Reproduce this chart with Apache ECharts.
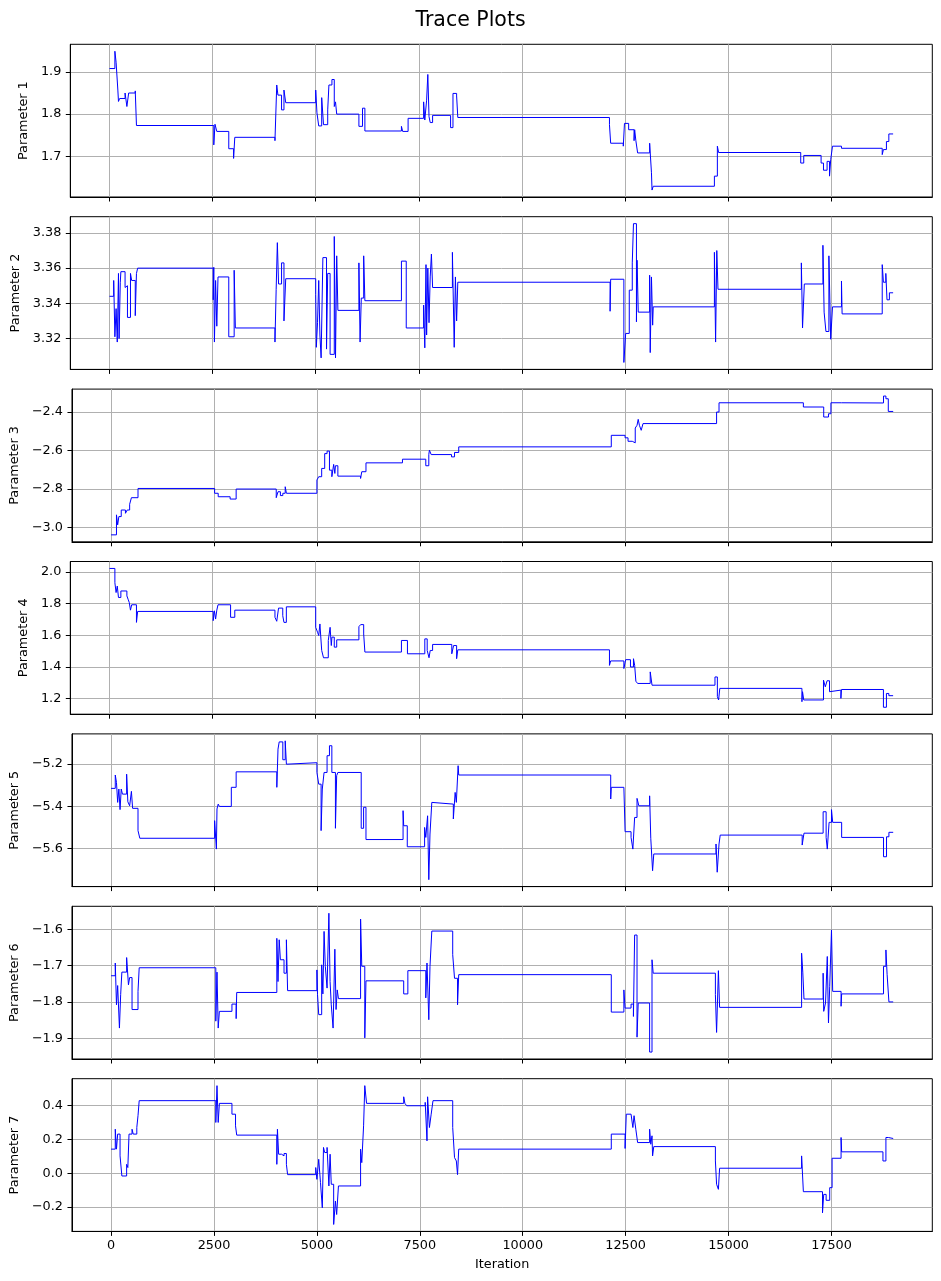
<!DOCTYPE html>
<html>
<head>
<meta charset="utf-8">
<script src="https://cdn.jsdelivr.net/npm/echarts@6.0.0/dist/echarts.min.js"></script>
</head>
<body style="margin:0; background:#fff;">
<div id="main" style="width:941px;height:1281px;"></div>
<script>
// ---- data ----
var chartTitle = 'Trace Plots';
var xName = 'Iteration';
var paramNames = ['Parameter 1', 'Parameter 2', 'Parameter 3', 'Parameter 4', 'Parameter 5', 'Parameter 6', 'Parameter 7'];
var xTickLabels = ['0', '2500', '5000', '7500', '10000', '12500', '15000', '17500'];
var yTickLabels = [
    ['1.7', '1.8', '1.9'],
    ['3.32', '3.34', '3.36', '3.38'],
    ['\u22123.0', '\u22122.8', '\u22122.6', '\u22122.4'],
    ['1.2', '1.4', '1.6', '1.8', '2.0'],
    ['\u22125.6', '\u22125.4', '\u22125.2'],
    ['\u22121.9', '\u22121.8', '\u22121.7', '\u22121.6'],
    ['\u22120.2', '0.0', '0.2', '0.4']
];

// [iteration, value] at each change of the chain
var p1 = [[0,1.908],[131,1.949],[160,1.923],[203,1.857],[218,1.830],[247,1.837],[378,1.850],[422,1.818],[465,1.850],[625,1.855],[654,1.773],[2529,1.727],[2558,1.776],[2602,1.759],[2892,1.718],[3009,1.695],[3038,1.745],[4012,1.737],[4055,1.869],[4084,1.845],[4172,1.810],[4230,1.857],[4273,1.827],[5000,1.857],[5030,1.803],[5073,1.772],[5145,1.839],[5189,1.775],[5291,1.810],[5320,1.869],[5393,1.882],[5450,1.818],[5480,1.829],[5509,1.800],[6047,1.771],[6134,1.814],[6192,1.760],[7078,1.771],[7108,1.759],[7240,1.790],[7616,1.829],[7645,1.786],[7689,1.833],[7718,1.894],[7747,1.794],[7776,1.780],[7834,1.797],[8270,1.768],[8328,1.849],[8416,1.843],[8445,1.792],[12122,1.775],[12151,1.731],[12457,1.724],[12486,1.778],[12587,1.763],[12718,1.737],[12733,1.763],[12762,1.737],[12805,1.708],[13096,1.731],[13140,1.661],[13154,1.620],[13183,1.629],[14666,1.653],[14738,1.724],[14768,1.709],[16759,1.684],[16832,1.702],[17253,1.684],[17311,1.667],[17398,1.688],[17457,1.653],[17486,1.692],[17529,1.724],[17747,1.719],[18735,1.704],[18764,1.716],[18837,1.735],[18895,1.753],[18999,1.753]];
var p2 = [[0,3.344],[102,3.353],[131,3.321],[160,3.337],[189,3.318],[218,3.357],[233,3.320],[262,3.352],[276,3.358],[378,3.349],[407,3.350],[436,3.332],[509,3.357],[538,3.353],[625,3.333],[654,3.357],[683,3.360],[2515,3.342],[2529,3.3605],[2544,3.318],[2573,3.353],[2602,3.327],[2631,3.355],[2892,3.321],[3023,3.3588],[3052,3.326],[4012,3.318],[4041,3.348],[4070,3.3745],[4099,3.351],[4172,3.363],[4230,3.330],[4273,3.354],[5000,3.345],[5015,3.315],[5044,3.329],[5073,3.353],[5102,3.322],[5131,3.309],[5174,3.366],[5262,3.314],[5291,3.357],[5349,3.311],[5450,3.378],[5480,3.309],[5509,3.367],[5538,3.336],[6047,3.363],[6076,3.318],[6105,3.343],[6163,3.367],[6192,3.3415],[7078,3.364],[7195,3.326],[7616,3.339],[7645,3.3147],[7674,3.362],[7689,3.322],[7718,3.360],[7747,3.329],[7776,3.355],[7805,3.368],[7834,3.349],[8314,3.369],[8358,3.315],[8387,3.355],[8416,3.330],[8445,3.352],[12137,3.3355],[12151,3.3537],[12471,3.3064],[12515,3.3229],[12602,3.3475],[12675,3.363],[12704,3.3853],[12776,3.3295],[12791,3.3645],[12820,3.335],[13096,3.356],[13110,3.312],[13140,3.355],[13169,3.3276],[13183,3.338],[14666,3.369],[14695,3.318],[14724,3.370],[14753,3.348],[16774,3.363],[16803,3.326],[16846,3.351],[17297,3.373],[17326,3.335],[17370,3.324],[17442,3.367],[17486,3.3196],[17529,3.338],[17747,3.3527],[17762,3.334],[18735,3.362],[18764,3.352],[18822,3.357],[18851,3.342],[18909,3.346],[18999,3.346]];
var p3 = [[0,-3.038],[131,-2.934],[160,-2.986],[189,-2.943],[247,-2.909],[349,-2.926],[392,-2.909],[451,-2.879],[494,-2.845],[654,-2.797],[2515,-2.822],[2602,-2.840],[2892,-2.852],[3038,-2.800],[4012,-2.845],[4055,-2.814],[4113,-2.834],[4172,-2.822],[4230,-2.788],[4259,-2.822],[5000,-2.753],[5044,-2.736],[5116,-2.693],[5189,-2.616],[5247,-2.603],[5305,-2.702],[5363,-2.736],[5407,-2.672],[5436,-2.719],[5450,-2.679],[5509,-2.733],[6061,-2.745],[6090,-2.710],[6192,-2.664],[7078,-2.645],[7645,-2.679],[7718,-2.621],[7733,-2.598],[7776,-2.621],[8270,-2.633],[8343,-2.610],[8445,-2.581],[12151,-2.521],[12486,-2.534],[12558,-2.552],[12660,-2.560],[12733,-2.483],[12776,-2.469],[12805,-2.438],[12834,-2.469],[12878,-2.495],[12922,-2.460],[14709,-2.400],[14768,-2.352],[16817,-2.374],[17311,-2.426],[17427,-2.409],[17486,-2.352],[17747,-2.362],[17762,-2.353],[18764,-2.317],[18822,-2.331],[18880,-2.397],[18999,-2.397]];
var p4 = [[0,2.021],[131,1.931],[160,1.869],[189,1.910],[218,1.838],[276,1.879],[422,1.848],[451,1.827],[480,1.806],[509,1.758],[538,1.792],[654,1.681],[683,1.750],[2515,1.692],[2544,1.754],[2573,1.702],[2602,1.758],[2631,1.792],[2936,1.713],[3038,1.758],[4012,1.713],[4055,1.688],[4099,1.771],[4201,1.723],[4230,1.681],[4288,1.779],[5000,1.650],[5044,1.619],[5073,1.598],[5102,1.671],[5145,1.504],[5189,1.458],[5305,1.567],[5349,1.650],[5378,1.535],[5393,1.588],[5450,1.525],[5509,1.571],[6047,1.654],[6090,1.667],[6163,1.608],[6192,1.494],[7078,1.567],[7224,1.483],[7645,1.577],[7703,1.504],[7747,1.458],[7776,1.504],[7834,1.542],[8299,1.483],[8343,1.535],[8416,1.452],[8445,1.508],[12122,1.410],[12151,1.438],[12471,1.390],[12515,1.446],[12631,1.400],[12704,1.452],[12733,1.410],[12762,1.310],[12805,1.296],[13110,1.369],[13154,1.285],[14680,1.337],[14738,1.213],[14768,1.192],[14797,1.265],[16788,1.181],[16803,1.244],[16832,1.192],[17311,1.317],[17355,1.275],[17398,1.313],[17457,1.244],[17500,1.254],[17733,1.202],[17747,1.258],[18764,1.146],[18837,1.233],[18895,1.219],[18999,1.219]];
var p5 = [[0,-5.316],[102,-5.253],[131,-5.288],[160,-5.382],[189,-5.319],[218,-5.416],[247,-5.319],[276,-5.343],[378,-5.249],[407,-5.379],[451,-5.398],[494,-5.330],[523,-5.410],[654,-5.515],[698,-5.551],[2515,-5.468],[2558,-5.602],[2573,-5.413],[2602,-5.390],[2631,-5.401],[2921,-5.311],[3038,-5.238],[4026,-5.311],[4055,-5.131],[4084,-5.097],[4172,-5.181],[4230,-5.092],[4259,-5.202],[4288,-5.195],[5000,-5.241],[5044,-5.296],[5102,-5.515],[5131,-5.319],[5174,-5.241],[5247,-5.162],[5305,-5.115],[5363,-5.241],[5450,-5.504],[5480,-5.256],[5509,-5.241],[6076,-5.504],[6134,-5.405],[6192,-5.557],[7093,-5.421],[7108,-5.492],[7195,-5.591],[7616,-5.500],[7645,-5.547],[7689,-5.445],[7718,-5.746],[7747,-5.531],[7791,-5.382],[7834,-5.390],[8314,-5.460],[8358,-5.335],[8387,-5.382],[8430,-5.209],[8445,-5.253],[12137,-5.366],[12151,-5.311],[12457,-5.304],[12486,-5.520],[12631,-5.547],[12675,-5.602],[12718,-5.453],[12776,-5.363],[12820,-5.398],[13082,-5.351],[13110,-5.551],[13154,-5.704],[13183,-5.625],[14695,-5.578],[14724,-5.711],[14768,-5.578],[14797,-5.536],[16788,-5.583],[16832,-5.527],[17297,-5.426],[17370,-5.547],[17398,-5.602],[17442,-5.476],[17500,-5.416],[17529,-5.476],[17747,-5.547],[18764,-5.638],[18837,-5.544],[18895,-5.523],[18999,-5.523]];
var p6 = [[0,-1.728],[102,-1.693],[131,-1.808],[160,-1.755],[203,-1.872],[233,-1.780],[262,-1.718],[378,-1.678],[422,-1.753],[451,-1.733],[509,-1.821],[654,-1.771],[683,-1.706],[2544,-1.853],[2573,-1.718],[2602,-1.872],[2631,-1.826],[2936,-1.806],[3038,-1.846],[3052,-1.774],[4026,-1.625],[4055,-1.744],[4084,-1.629],[4113,-1.684],[4201,-1.721],[4259,-1.629],[4288,-1.769],[5000,-1.712],[5015,-1.780],[5044,-1.835],[5116,-1.698],[5145,-1.778],[5174,-1.606],[5204,-1.702],[5247,-1.762],[5291,-1.556],[5320,-1.744],[5349,-1.808],[5393,-1.872],[5436,-1.655],[5465,-1.821],[5494,-1.767],[5523,-1.791],[6061,-1.572],[6090,-1.702],[6163,-1.899],[6192,-1.742],[7108,-1.778],[7209,-1.714],[7645,-1.789],[7674,-1.693],[7718,-1.849],[7747,-1.702],[7791,-1.605],[8299,-1.670],[8343,-1.735],[8416,-1.808],[8445,-1.725],[12151,-1.828],[12457,-1.767],[12486,-1.817],[12631,-1.806],[12689,-1.840],[12718,-1.616],[12776,-1.897],[12805,-1.803],[13082,-1.938],[13140,-1.684],[13169,-1.721],[14680,-1.780],[14709,-1.884],[14753,-1.714],[14782,-1.815],[16774,-1.666],[16803,-1.718],[16832,-1.792],[17297,-1.721],[17311,-1.826],[17355,-1.803],[17398,-1.675],[17427,-1.858],[17457,-1.757],[17500,-1.602],[17529,-1.771],[17733,-1.812],[17747,-1.778],[18764,-1.702],[18822,-1.657],[18851,-1.724],[18895,-1.800],[18999,-1.800]];
var p7 = [[0,0.143],[102,0.261],[131,0.143],[160,0.232],[218,0.103],[262,-0.016],[378,0.053],[407,0.034],[436,0.232],[509,0.261],[538,0.232],[625,0.271],[654,0.341],[683,0.430],[2544,0.301],[2573,0.519],[2602,0.301],[2631,0.414],[2936,0.350],[3023,0.281],[3052,0.226],[4026,0.053],[4041,0.261],[4070,0.113],[4142,0.103],[4201,0.117],[4259,0.053],[4288,-0.008],[4971,0.034],[5000,-0.036],[5044,0.083],[5087,-0.055],[5131,-0.204],[5160,0.153],[5189,0.123],[5247,0.153],[5291,-0.075],[5320,0.113],[5349,-0.065],[5407,-0.303],[5450,-0.164],[5480,-0.244],[5523,-0.075],[6061,0.143],[6090,0.063],[6134,0.281],[6163,0.519],[6206,0.414],[7108,0.453],[7137,0.414],[7180,0.400],[7631,0.420],[7674,0.192],[7689,0.453],[7733,0.271],[7776,0.350],[7820,0.430],[8299,0.271],[8343,0.093],[8387,0.073],[8416,-0.008],[8445,0.143],[12151,0.232],[12486,0.147],[12515,0.350],[12631,0.341],[12675,0.271],[12704,0.341],[12747,0.261],[12791,0.182],[13082,0.261],[13110,0.172],[13140,0.222],[13154,0.103],[13183,0.158],[14680,0.073],[14709,-0.065],[14753,-0.095],[14782,0.030],[16774,0.103],[16817,-0.109],[17282,-0.234],[17311,-0.125],[17370,-0.160],[17457,-0.085],[17515,0.089],[17733,0.212],[17747,0.127],[18750,0.073],[18822,0.212],[18880,0.206],[18999,0.206]];
var traces = [p1, p2, p3, p4, p5, p6, p7];

// ---- layout / style ----
var FONT = 'DejaVu Sans';
var plotLeft = 70.3, plotWidth = 862, plotTop0 = 44.3, plotStep = 172.4, plotHeight = 152.7;
var nameGaps = [33, 42, 48, 33, 48, 48, 48];

function num(s) { return parseFloat(s.replace('\u2212', '-')); }

// matplotlib-like autoscale: data range plus 5% each side
function limits(arr, k) {
    var lo = Infinity, hi = -Infinity;
    arr.forEach(function (d) { lo = Math.min(lo, d[k]); hi = Math.max(hi, d[k]); });
    var pad = (hi - lo) * 0.05;
    return [lo - pad, hi + pad];
}

var chart = echarts.init(document.getElementById('main'));
var grids = [], xAxes = [], yAxes = [], series = [];
var xTicks = xTickLabels.map(num);

traces.forEach(function (tr, i) {
    var last = i === traces.length - 1;
    var xl = limits(tr, 0), yl = limits(tr, 1);
    var yLabels = yTickLabels[i];
    var yTicks = yLabels.map(num);

    grids.push({
        left: plotLeft, width: plotWidth,
        top: plotTop0 + i * plotStep, height: plotHeight,
        show: true, borderColor: '#000', borderWidth: 1, backgroundColor: '#fff'
    });
    xAxes.push({
        type: 'value', gridIndex: i, min: xl[0], max: xl[1],
        name: last ? xName : '', nameLocation: 'middle', nameGap: 27,
        nameTextStyle: { fontFamily: FONT, fontSize: 12.8, color: '#000' },
        axisLine: { show: true, onZero: false, lineStyle: { color: '#000', width: 1 } },
        axisTick: { show: true, length: 4.5, customValues: xTicks, lineStyle: { color: '#000', width: 1 } },
        axisLabel: {
            show: last, customValues: xTicks, margin: 8,
            fontFamily: FONT, fontSize: 12.8, color: '#000',
            formatter: function (v) { return xTickLabels[xTicks.indexOf(v)]; }
        },
        splitLine: { show: true, lineStyle: { color: '#b0b0b0', width: 1 } }
    });
    yAxes.push({
        type: 'value', gridIndex: i, min: yl[0], max: yl[1],
        name: paramNames[i], nameLocation: 'middle', nameGap: nameGaps[i],
        nameTextStyle: { fontFamily: FONT, fontSize: 12.8, color: '#000' },
        axisLine: { show: true, onZero: false, lineStyle: { color: '#000', width: 1 } },
        axisTick: { show: true, length: 4.5, customValues: yTicks, lineStyle: { color: '#000', width: 1 } },
        axisLabel: {
            customValues: yTicks, margin: 9,
            fontFamily: FONT, fontSize: 12.8, color: '#000',
            formatter: function (v) {
                var best = 0;
                yTicks.forEach(function (t, j) { if (Math.abs(t - v) < Math.abs(yTicks[best] - v)) best = j; });
                return yLabels[best];
            }
        },
        splitLine: { show: true, lineStyle: { color: '#b0b0b0', width: 1 } }
    });
    series.push({
        type: 'line', xAxisIndex: i, yAxisIndex: i,
        data: tr, step: 'end', showSymbol: false, symbol: 'none',
        lineStyle: { color: '#0000ff', width: 1 },
        animation: false
    });
});

chart.setOption({
    animation: false,
    backgroundColor: '#fff',
    title: {
        text: chartTitle, left: 'center', top: 5,
        textStyle: { fontFamily: FONT, fontSize: 20.5, fontWeight: 'normal', color: '#000' }
    },
    grid: grids,
    xAxis: xAxes,
    yAxis: yAxes,
    series: series
});
</script>
</body>
</html>
